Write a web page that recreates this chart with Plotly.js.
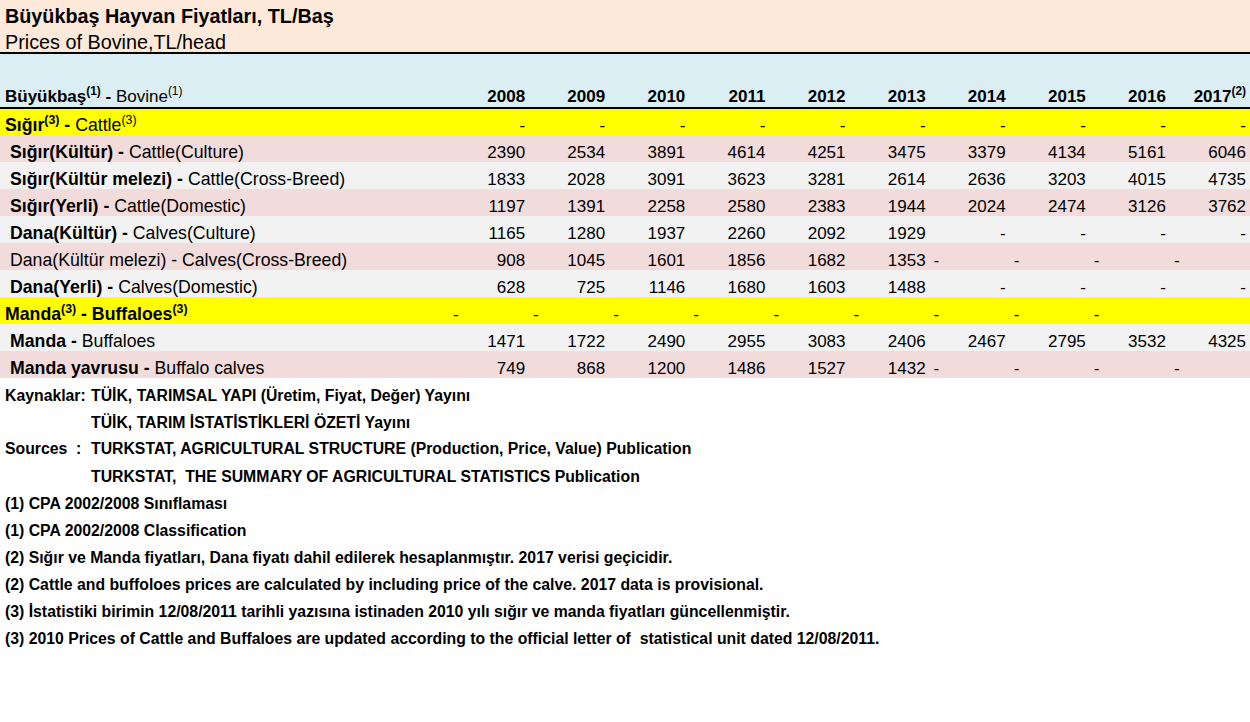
<!DOCTYPE html>
<html>
<head>
<meta charset="utf-8">
<script src="https://cdn.plot.ly/plotly-3.0.1.min.js"></script>
<style>html,body{margin:0;padding:0;background:#fff;}#chart{width:1250px;height:722px;}</style>
</head>
<body>
<div id="chart"></div>
<script>
// ---- data ----
const years = [2008,2009,2010,2011,2012,2013,2014,2015,2016,2017];
const yearHeaders = ['2008','2009','2010','2011','2012','2013','2014','2015','2016','2017<sup>(2)</sup>'];
const rowLabels = [
  '<b>Sığır<sup>(3)</sup> - </b>Cattle<sup>(3)</sup>',
  '<b>Sığır(Kültür) - </b>Cattle(Culture)',
  '<b>Sığır(Kültür melezi) - </b>Cattle(Cross-Breed)',
  '<b>Sığır(Yerli) - </b>Cattle(Domestic)',
  '<b>Dana(Kültür) - </b>Calves(Culture)',
  'Dana(Kültür melezi) - Calves(Cross-Breed)',
  '<b>Dana(Yerli) - </b>Calves(Domestic)',
  '<b>Manda<sup>(3)</sup> - Buffaloes<sup>(3)</sup></b>',
  '<b>Manda - </b>Buffaloes',
  '<b>Manda yavrusu - </b>Buffalo calves'
];
const cattleTotal      = [null,null,null,null,null,null,null,null,null,null];
const cattleCulture    = [2390,2534,3891,4614,4251,3475,3379,4134,5161,6046];
const cattleCross      = [1833,2028,3091,3623,3281,2614,2636,3203,4015,4735];
const cattleDomestic   = [1197,1391,2258,2580,2383,1944,2024,2474,3126,3762];
const calvesCulture    = [1165,1280,1937,2260,2092,1929,null,null,null,null];
const calvesCross      = [908,1045,1601,1856,1682,1353,null,null,null,null];
const calvesDomestic   = [628,725,1146,1680,1603,1488,null,null,null,null];
const buffaloTotal     = [null,null,null,null,null,null,null,null,null,''];
const buffaloes        = [1471,1722,2490,2955,3083,2406,2467,2795,3532,4325];
const buffaloCalves    = [749,868,1200,1486,1527,1432,null,null,null,null];

const rows = [cattleTotal,cattleCulture,cattleCross,cattleDomestic,calvesCulture,calvesCross,calvesDomestic,buffaloTotal,buffaloes,buffaloCalves];
const leftDashRows = [5,7,9];     // rows whose dashes sit at the left of the cell
const groupRows = [0,7];          // yellow group rows (not indented)
const rowFill = ['#ffff00','#f2dcdb','#f2f2f2','#f2dcdb','#f2f2f2','#f2dcdb','#f2f2f2','#ffff00','#f2f2f2','#f2dcdb'];

const footLines = [
  ['Kaynaklar:', 'TÜİK, TARIMSAL YAPI (Üretim, Fiyat, Değer) Yayını'],
  ['', 'TÜİK, TARIM İSTATİSTİKLERİ ÖZETİ Yayını'],
  ['Sources\u00a0\u00a0:', 'TURKSTAT, AGRICULTURAL STRUCTURE (Production, Price, Value) Publication'],
  ['', 'TURKSTAT,\u00a0\u00a0THE SUMMARY OF AGRICULTURAL STATISTICS Publication'],
  ['(1) CPA 2002/2008 Sınıflaması', null],
  ['(1) CPA 2002/2008 Classification', null],
  ['(2) Sığır ve Manda fiyatları, Dana fiyatı dahil edilerek hesaplanmıştır. 2017 verisi geçicidir.', null],
  ['(2) Cattle and buffoloes prices are calculated by including price of the calve. 2017 data is provisional.', null],
  ['(3) İstatistiki birimin 12/08/2011 tarihli yazısına istinaden 2010 yılı sığır ve manda fiyatları güncellenmiştir.', null],
  ['(3) 2010 Prices of Cattle and Buffaloes are updated according to the official letter of\u00a0\u00a0statistical unit dated 12/08/2011.', null]
];

// ---- geometry (layout only) ----
const W = 1250, H = 722;
const FONT = 'Liberation Sans, Arial, sans-serif';
const colW = 80.1, labelW = 453, rowH = 27, bodyTop = 108;
const xMin = (years[0] - 0.5) - labelW / colW;
const xMax = xMin + W / colW;
const yTopVal = -0.5 - bodyTop / rowH;
const yBotVal = yTopVal + H / rowH;
const px2x = px => xMin + px / colW;
const py2y = py => yTopVal + py / rowH;
const padR = 8 / colW;
const textDy = 0.19;

// ---- row backgrounds (bars) ----
const rowIdx = rows.map((r, i) => i);
const bgTrace = {
  type: 'bar', orientation: 'h',
  y: rowIdx, x: rowIdx.map(() => xMax - xMin), base: xMin, width: 1,
  marker: {color: rowFill, line: {width: 0}},
  hoverinfo: 'skip'
};

// ---- cell texts ----
const cx = [], cy = [], ct = [], cp = [];
rows.forEach((r, i) => {
  r.forEach((v, c) => {
    if (v === '') return;
    const left = v === null && leftDashRows.includes(i);
    cx.push(left ? years[c] - 0.5 : years[c] + 0.5 - padR);
    cy.push(i + textDy);
    ct.push(v === null ? '-' : String(v));
    cp.push(left ? 'middle right' : 'middle left');
  });
});
const cellTrace = {
  type: 'scatter', mode: 'text', x: cx, y: cy, text: ct, textposition: cp,
  textfont: {family: FONT, size: 17, color: '#000'}, cliponaxis: false, hoverinfo: 'skip'
};
const labelTrace = {
  type: 'scatter', mode: 'text',
  x: rowIdx.map(i => px2x(groupRows.includes(i) ? 5 : 10)),
  y: rowIdx.map(i => i + textDy), text: rowLabels, textposition: 'middle right',
  textfont: {family: FONT, size: 17.7, color: '#000'}, cliponaxis: false, hoverinfo: 'skip'
};
const headerY = py2y(98);
const headerTrace = {
  type: 'scatter', mode: 'text',
  x: years.map(y => y + 0.5 - padR).concat([px2x(5)]),
  y: years.map(() => headerY).concat([headerY]),
  text: yearHeaders.map(t => '<b>' + t + '</b>').concat(['<b>Büyükbaş<sup>(1)</sup> - </b>Bovine<sup>(1)</sup>']),
  textposition: years.map(() => 'middle left').concat(['middle right']),
  textfont: {family: FONT, size: 17, color: '#000'}, cliponaxis: false, hoverinfo: 'skip'
};

// ---- annotations ----
const annotations = [
  {text: '<b>Büyükbaş Hayvan Fiyatları, TL/Baş</b>', x: 3 / W, y: 1 - 16 / H, font: {size: 19.8}},
  {text: 'Prices of Bovine,TL/head', x: 3 / W, y: 1 - 42 / H, font: {size: 19.8}}
];
footLines.forEach((f, i) => {
  const yc = 1 - (395 + 27 * i) / H;
  if (f[1] === null) {
    annotations.push({text: '<b>' + f[0] + '</b>', x: 3 / W, y: yc, font: {size: 15.8}});
  } else {
    if (f[0]) annotations.push({text: '<b>' + f[0] + '</b>', x: 3 / W, y: yc, font: {size: 15.8}});
    annotations.push({text: '<b>' + f[1] + '</b>', x: 89 / W, y: yc, font: {size: 15.8}});
  }
});
annotations.forEach(a => {
  a.xref = 'paper'; a.yref = 'paper'; a.xanchor = 'left'; a.yanchor = 'middle';
  a.showarrow = false; a.font = Object.assign({family: FONT, color: '#000'}, a.font);
});

const shapes = [
  {type: 'rect', xref: 'paper', yref: 'paper', x0: 0, x1: 1, y0: 1 - 53 / H, y1: 1, fillcolor: '#fde9d9', line: {width: 0}, layer: 'below'},
  {type: 'rect', xref: 'paper', yref: 'paper', x0: 0, x1: 1, y0: 1 - 108 / H, y1: 1 - 53 / H, fillcolor: '#daeef3', line: {width: 0}, layer: 'below'},
  {type: 'line', xref: 'paper', yref: 'paper', x0: 0, x1: 1, y0: 1 - 53 / H, y1: 1 - 53 / H, line: {color: '#000', width: 2}},
  {type: 'line', xref: 'paper', yref: 'paper', x0: 0, x1: 1, y0: 1 - 108 / H, y1: 1 - 108 / H, line: {color: '#000', width: 2}}
];

Plotly.newPlot('chart', [bgTrace, cellTrace, labelTrace, headerTrace], {
  width: W, height: H,
  margin: {l: 0, r: 0, t: 0, b: 0, pad: 0},
  paper_bgcolor: '#ffffff', plot_bgcolor: 'rgba(0,0,0,0)',
  showlegend: false, hovermode: false,
  xaxis: {range: [xMin, xMax], visible: false, fixedrange: true},
  yaxis: {range: [yBotVal, yTopVal], visible: false, fixedrange: true},
  annotations: annotations,
  shapes: shapes
}, {displayModeBar: false, staticPlot: true});
</script>
</body>
</html>
